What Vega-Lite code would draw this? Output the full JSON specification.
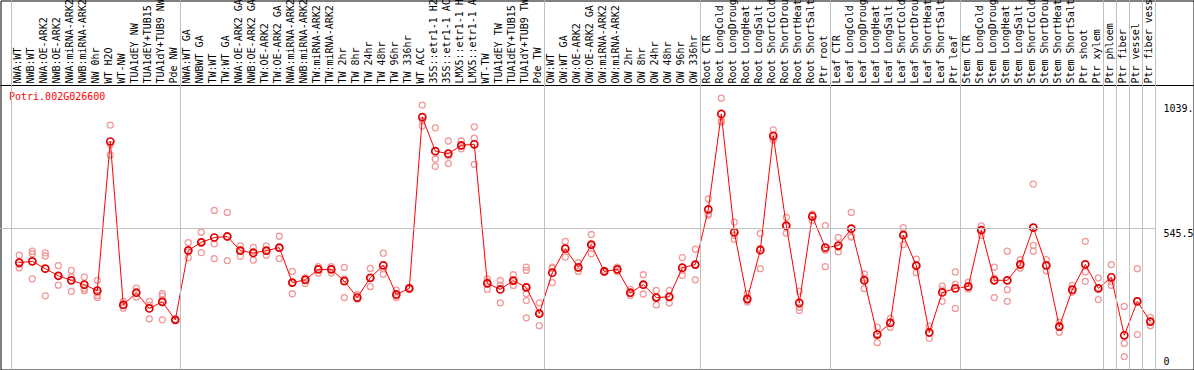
{
  "$schema": "https://vega.github.io/schema/vega-lite/v6.json",
  "width": 1193,
  "height": 369,
  "autosize": {"type": "none"},
  "padding": {"left": 0.5, "top": 0.5, "right": 0.5, "bottom": 0.5},
  "background": "white",
  "config": {
    "view": {"stroke": "black", "strokeWidth": 1},
    "axis": {"grid": false, "ticks": false, "domain": false, "translate": 0, "labelFont": "DejaVu Sans Mono", "labelFontSize": 10, "labelColor": "black"}
  },
  "datasets": {
    "means": [
      {"s": "NWA:WT", "v": 411}, {"s": "NWB:WT", "v": 416}, {"s": "NWA:OE-ARK2", "v": 387}, {"s": "NWB:OE-ARK2", "v": 359},
      {"s": "NWA:miRNA-ARK2", "v": 341}, {"s": "NWB:miRNA-ARK2", "v": 324}, {"s": "NW 0hr", "v": 300}, {"s": "WT H2O", "v": 889},
      {"s": "WT-NW", "v": 244}, {"s": "TUA1dEY NW", "v": 292}, {"s": "TUA1dEY+TUB15 NW", "v": 230}, {"s": "TUA1dY+TUB9 NW", "v": 256},
      {"s": "Pde NW", "v": 185}, {"s": "NWA:WT GA", "v": 459}, {"s": "NWBWT GA", "v": 491}, {"s": "TW:WT", "v": 510},
      {"s": "TW:WT GA", "v": 514}, {"s": "NWA:OE-ARK2 GA", "v": 458}, {"s": "NWB:OE-ARK2 GA", "v": 449}, {"s": "TW:OE-ARK2", "v": 458},
      {"s": "TW:OE-ARK2 GA", "v": 470}, {"s": "NWA:miRNA-ARK2 GA", "v": 332}, {"s": "NWB:miRNA-ARK2 GA", "v": 343}, {"s": "TW:miRNA-ARK2", "v": 384},
      {"s": "TW:miRNA-ARK2 GA", "v": 384}, {"s": "TW 2hr", "v": 338}, {"s": "TW 8hr", "v": 273}, {"s": "TW 24hr", "v": 351},
      {"s": "TW 48hr", "v": 400}, {"s": "TW 96hr", "v": 285}, {"s": "TW 336hr", "v": 309}, {"s": "WT ACC", "v": 985},
      {"s": "35S::etr1-1 H2O", "v": 851}, {"s": "35S::etr1-1 ACC", "v": 841}, {"s": "LMX5::etr1-1 H2O", "v": 874}, {"s": "LMX5::etr1-1 ACC", "v": 878},
      {"s": "WT-TW", "v": 329}, {"s": "TUA1dEY TW", "v": 305}, {"s": "TUA1dEY+TUB15 TW", "v": 340}, {"s": "TUA1dY+TUB9 TW", "v": 313},
      {"s": "Pde TW", "v": 209}, {"s": "OW:WT", "v": 371}, {"s": "OW:WT GA", "v": 466}, {"s": "OW:OE-ARK2", "v": 392},
      {"s": "OW:OE-ARK2 GA", "v": 482}, {"s": "OW:miRNA-ARK2", "v": 376}, {"s": "OW:miRNA-ARK2 GA", "v": 384}, {"s": "OW 2hr", "v": 292},
      {"s": "OW 8hr", "v": 324}, {"s": "OW 24hr", "v": 273}, {"s": "OW 48hr", "v": 276}, {"s": "OW 96hr", "v": 391},
      {"s": "OW 336hr", "v": 403}, {"s": "Root CTR", "v": 621}, {"s": "Root LongCold", "v": 998}, {"s": "Root LongDrought", "v": 531},
      {"s": "Root LongHeat", "v": 268}, {"s": "Root LongSalt", "v": 460}, {"s": "Root ShortCold", "v": 911}, {"s": "Root ShortDrought", "v": 557},
      {"s": "Root ShortHeat", "v": 252}, {"s": "Root ShortSalt", "v": 593}, {"s": "Ptr root", "v": 470}, {"s": "Leaf CTR", "v": 478},
      {"s": "Leaf LongCold", "v": 545}, {"s": "Leaf LongDrought", "v": 341}, {"s": "Leaf LongHeat", "v": 127}, {"s": "Leaf LongSalt", "v": 173},
      {"s": "Leaf ShortCold", "v": 519}, {"s": "Leaf ShortDrought", "v": 399}, {"s": "Leaf ShortHeat", "v": 135}, {"s": "Leaf ShortSalt", "v": 293},
      {"s": "Ptr leaf", "v": 309}, {"s": "Stem CTR", "v": 317}, {"s": "Stem LongCold", "v": 539}, {"s": "Stem LongDrought", "v": 341},
      {"s": "Stem LongHeat", "v": 341}, {"s": "Stem LongSalt", "v": 404}, {"s": "Stem ShortCold", "v": 549}, {"s": "Stem ShortDrought", "v": 400},
      {"s": "Stem ShortHeat", "v": 158}, {"s": "Stem ShortSalt", "v": 304}, {"s": "Ptr shoot", "v": 404}, {"s": "Ptr xylem", "v": 309},
      {"s": "Ptr phloem", "v": 353}, {"s": "Ptr fiber", "v": 124}, {"s": "Ptr vessel", "v": 258}, {"s": "Ptr fiber vessel", "v": 178}
    ],
    "reps": [
      {"s": "NWA:WT", "v": 440}, {"s": "NWA:WT", "v": 403}, {"s": "NWA:WT", "v": 390},
      {"s": "NWB:WT", "v": 456}, {"s": "NWB:WT", "v": 446}, {"s": "NWB:WT", "v": 347},
      {"s": "NWA:OE-ARK2", "v": 449}, {"s": "NWA:OE-ARK2", "v": 437}, {"s": "NWA:OE-ARK2", "v": 280},
      {"s": "NWB:OE-ARK2", "v": 399}, {"s": "NWB:OE-ARK2", "v": 358}, {"s": "NWB:OE-ARK2", "v": 322},
      {"s": "NWA:miRNA-ARK2", "v": 380}, {"s": "NWA:miRNA-ARK2", "v": 354}, {"s": "NWA:miRNA-ARK2", "v": 297},
      {"s": "NWB:miRNA-ARK2", "v": 354}, {"s": "NWB:miRNA-ARK2", "v": 308}, {"s": "NWB:miRNA-ARK2", "v": 300},
      {"s": "NW 0hr", "v": 341}, {"s": "NW 0hr", "v": 292}, {"s": "NW 0hr", "v": 281}, {"s": "NW 0hr", "v": 273},
      {"s": "WT H2O", "v": 954}, {"s": "WT H2O", "v": 877}, {"s": "WT H2O", "v": 836},
      {"s": "WT-NW", "v": 258}, {"s": "WT-NW", "v": 244}, {"s": "WT-NW", "v": 231},
      {"s": "TUA1dEY NW", "v": 310}, {"s": "TUA1dEY NW", "v": 291}, {"s": "TUA1dEY NW", "v": 275},
      {"s": "TUA1dEY+TUB15 NW", "v": 258}, {"s": "TUA1dEY+TUB15 NW", "v": 243}, {"s": "TUA1dEY+TUB15 NW", "v": 189},
      {"s": "TUA1dY+TUB9 NW", "v": 288}, {"s": "TUA1dY+TUB9 NW", "v": 279}, {"s": "TUA1dY+TUB9 NW", "v": 265}, {"s": "TUA1dY+TUB9 NW", "v": 185},
      {"s": "Pde NW", "v": 187}, {"s": "Pde NW", "v": 185}, {"s": "Pde NW", "v": 183},
      {"s": "NWA:WT GA", "v": 490}, {"s": "NWA:WT GA", "v": 453}, {"s": "NWA:WT GA", "v": 431},
      {"s": "NWBWT GA", "v": 531}, {"s": "NWBWT GA", "v": 492}, {"s": "NWBWT GA", "v": 450},
      {"s": "TW:WT", "v": 617}, {"s": "TW:WT", "v": 485}, {"s": "TW:WT", "v": 427},
      {"s": "TW:WT GA", "v": 609}, {"s": "TW:WT GA", "v": 514}, {"s": "TW:WT GA", "v": 419},
      {"s": "NWA:OE-ARK2 GA", "v": 477}, {"s": "NWA:OE-ARK2 GA", "v": 461}, {"s": "NWA:OE-ARK2 GA", "v": 436},
      {"s": "NWB:OE-ARK2 GA", "v": 471}, {"s": "NWB:OE-ARK2 GA", "v": 455}, {"s": "NWB:OE-ARK2 GA", "v": 421},
      {"s": "TW:OE-ARK2", "v": 477}, {"s": "TW:OE-ARK2", "v": 457}, {"s": "TW:OE-ARK2", "v": 440},
      {"s": "TW:OE-ARK2 GA", "v": 515}, {"s": "TW:OE-ARK2 GA", "v": 468}, {"s": "TW:OE-ARK2 GA", "v": 427},
      {"s": "NWA:miRNA-ARK2 GA", "v": 376}, {"s": "NWA:miRNA-ARK2 GA", "v": 332}, {"s": "NWA:miRNA-ARK2 GA", "v": 288},
      {"s": "NWB:miRNA-ARK2 GA", "v": 351}, {"s": "NWB:miRNA-ARK2 GA", "v": 350}, {"s": "NWB:miRNA-ARK2 GA", "v": 328},
      {"s": "TW:miRNA-ARK2", "v": 395}, {"s": "TW:miRNA-ARK2", "v": 387}, {"s": "TW:miRNA-ARK2", "v": 370},
      {"s": "TW:miRNA-ARK2 GA", "v": 395}, {"s": "TW:miRNA-ARK2 GA", "v": 387}, {"s": "TW:miRNA-ARK2 GA", "v": 370},
      {"s": "TW 2hr", "v": 392}, {"s": "TW 2hr", "v": 347}, {"s": "TW 2hr", "v": 273},
      {"s": "TW 8hr", "v": 284}, {"s": "TW 8hr", "v": 268}, {"s": "TW 8hr", "v": 267},
      {"s": "TW 24hr", "v": 388}, {"s": "TW 24hr", "v": 349}, {"s": "TW 24hr", "v": 316},
      {"s": "TW 48hr", "v": 448}, {"s": "TW 48hr", "v": 387}, {"s": "TW 48hr", "v": 365},
      {"s": "TW 96hr", "v": 302}, {"s": "TW 96hr", "v": 280}, {"s": "TW 96hr", "v": 273},
      {"s": "TW 336hr", "v": 311}, {"s": "TW 336hr", "v": 310}, {"s": "TW 336hr", "v": 306},
      {"s": "WT ACC", "v": 1033}, {"s": "WT ACC", "v": 972}, {"s": "WT ACC", "v": 950},
      {"s": "35S::etr1-1 H2O", "v": 943}, {"s": "35S::etr1-1 H2O", "v": 820}, {"s": "35S::etr1-1 H2O", "v": 791},
      {"s": "35S::etr1-1 ACC", "v": 891}, {"s": "35S::etr1-1 ACC", "v": 832}, {"s": "35S::etr1-1 ACC", "v": 802},
      {"s": "LMX5::etr1-1 H2O", "v": 891}, {"s": "LMX5::etr1-1 H2O", "v": 871}, {"s": "LMX5::etr1-1 H2O", "v": 860},
      {"s": "LMX5::etr1-1 ACC", "v": 947}, {"s": "LMX5::etr1-1 ACC", "v": 902}, {"s": "LMX5::etr1-1 ACC", "v": 799},
      {"s": "WT-TW", "v": 347}, {"s": "WT-TW", "v": 335}, {"s": "WT-TW", "v": 305},
      {"s": "TUA1dEY TW", "v": 341}, {"s": "TUA1dEY TW", "v": 322}, {"s": "TUA1dEY TW", "v": 252},
      {"s": "TUA1dEY+TUB15 TW", "v": 363}, {"s": "TUA1dEY+TUB15 TW", "v": 336}, {"s": "TUA1dEY+TUB15 TW", "v": 321},
      {"s": "TUA1dY+TUB9 TW", "v": 393}, {"s": "TUA1dY+TUB9 TW", "v": 380}, {"s": "TUA1dY+TUB9 TW", "v": 316}, {"s": "TUA1dY+TUB9 TW", "v": 288}, {"s": "TUA1dY+TUB9 TW", "v": 261}, {"s": "TUA1dY+TUB9 TW", "v": 193},
      {"s": "Pde TW", "v": 252}, {"s": "Pde TW", "v": 213}, {"s": "Pde TW", "v": 162},
      {"s": "OW:WT", "v": 393}, {"s": "OW:WT", "v": 388}, {"s": "OW:WT", "v": 332},
      {"s": "OW:WT GA", "v": 495}, {"s": "OW:WT GA", "v": 470}, {"s": "OW:WT GA", "v": 433},
      {"s": "OW:OE-ARK2", "v": 411}, {"s": "OW:OE-ARK2", "v": 389}, {"s": "OW:OE-ARK2", "v": 376},
      {"s": "OW:OE-ARK2 GA", "v": 522}, {"s": "OW:OE-ARK2 GA", "v": 478}, {"s": "OW:OE-ARK2 GA", "v": 446},
      {"s": "OW:miRNA-ARK2", "v": 380}, {"s": "OW:miRNA-ARK2", "v": 374}, {"s": "OW:miRNA-ARK2", "v": 374},
      {"s": "OW:miRNA-ARK2 GA", "v": 393}, {"s": "OW:miRNA-ARK2 GA", "v": 383}, {"s": "OW:miRNA-ARK2 GA", "v": 376},
      {"s": "OW 2hr", "v": 305}, {"s": "OW 2hr", "v": 290}, {"s": "OW 2hr", "v": 281},
      {"s": "OW 8hr", "v": 363}, {"s": "OW 8hr", "v": 322}, {"s": "OW 8hr", "v": 287},
      {"s": "OW 24hr", "v": 301}, {"s": "OW 24hr", "v": 274}, {"s": "OW 24hr", "v": 244},
      {"s": "OW 48hr", "v": 301}, {"s": "OW 48hr", "v": 276}, {"s": "OW 48hr", "v": 251},
      {"s": "OW 96hr", "v": 431}, {"s": "OW 96hr", "v": 381}, {"s": "OW 96hr", "v": 361},
      {"s": "OW 336hr", "v": 464}, {"s": "OW 336hr", "v": 402}, {"s": "OW 336hr", "v": 343},
      {"s": "Root CTR", "v": 662}, {"s": "Root CTR", "v": 603}, {"s": "Root CTR", "v": 598},
      {"s": "Root LongCold", "v": 1060}, {"s": "Root LongCold", "v": 971}, {"s": "Root LongCold", "v": 965},
      {"s": "Root LongDrought", "v": 571}, {"s": "Root LongDrought", "v": 519}, {"s": "Root LongDrought", "v": 503},
      {"s": "Root LongHeat", "v": 288}, {"s": "Root LongHeat", "v": 261}, {"s": "Root LongHeat", "v": 255},
      {"s": "Root LongSalt", "v": 526}, {"s": "Root LongSalt", "v": 467}, {"s": "Root LongSalt", "v": 387},
      {"s": "Root ShortCold", "v": 935}, {"s": "Root ShortCold", "v": 903}, {"s": "Root ShortCold", "v": 895},
      {"s": "Root ShortDrought", "v": 589}, {"s": "Root ShortDrought", "v": 555}, {"s": "Root ShortDrought", "v": 527},
      {"s": "Root ShortHeat", "v": 298}, {"s": "Root ShortHeat", "v": 235}, {"s": "Root ShortHeat", "v": 222},
      {"s": "Root ShortSalt", "v": 602}, {"s": "Root ShortSalt", "v": 599}, {"s": "Root ShortSalt", "v": 578},
      {"s": "Ptr root", "v": 557}, {"s": "Ptr root", "v": 460}, {"s": "Ptr root", "v": 395},
      {"s": "Leaf CTR", "v": 510}, {"s": "Leaf CTR", "v": 471}, {"s": "Leaf CTR", "v": 453},
      {"s": "Leaf LongCold", "v": 609}, {"s": "Leaf LongCold", "v": 514}, {"s": "Leaf LongCold", "v": 512},
      {"s": "Leaf LongDrought", "v": 366}, {"s": "Leaf LongDrought", "v": 349}, {"s": "Leaf LongDrought", "v": 308},
      {"s": "Leaf LongHeat", "v": 156}, {"s": "Leaf LongHeat", "v": 130}, {"s": "Leaf LongHeat", "v": 95},
      {"s": "Leaf LongSalt", "v": 191}, {"s": "Leaf LongSalt", "v": 173}, {"s": "Leaf LongSalt", "v": 155},
      {"s": "Leaf ShortCold", "v": 549}, {"s": "Leaf ShortCold", "v": 526}, {"s": "Leaf ShortCold", "v": 482},
      {"s": "Leaf ShortDrought", "v": 425}, {"s": "Leaf ShortDrought", "v": 401}, {"s": "Leaf ShortDrought", "v": 371},
      {"s": "Leaf ShortHeat", "v": 160}, {"s": "Leaf ShortHeat", "v": 133}, {"s": "Leaf ShortHeat", "v": 112},
      {"s": "Leaf ShortSalt", "v": 318}, {"s": "Leaf ShortSalt", "v": 303}, {"s": "Leaf ShortSalt", "v": 258},
      {"s": "Ptr leaf", "v": 374}, {"s": "Ptr leaf", "v": 325}, {"s": "Ptr leaf", "v": 230},
      {"s": "Stem CTR", "v": 334}, {"s": "Stem CTR", "v": 310}, {"s": "Stem CTR", "v": 307},
      {"s": "Stem LongCold", "v": 556}, {"s": "Stem LongCold", "v": 542}, {"s": "Stem LongCold", "v": 519},
      {"s": "Stem LongDrought", "v": 393}, {"s": "Stem LongDrought", "v": 350}, {"s": "Stem LongDrought", "v": 273},
      {"s": "Stem LongHeat", "v": 456}, {"s": "Stem LongHeat", "v": 304}, {"s": "Stem LongHeat", "v": 258},
      {"s": "Stem LongSalt", "v": 423}, {"s": "Stem LongSalt", "v": 400}, {"s": "Stem LongSalt", "v": 389},
      {"s": "Stem ShortCold", "v": 721}, {"s": "Stem ShortCold", "v": 479}, {"s": "Stem ShortCold", "v": 456},
      {"s": "Stem ShortDrought", "v": 423}, {"s": "Stem ShortDrought", "v": 399}, {"s": "Stem ShortDrought", "v": 378},
      {"s": "Stem ShortHeat", "v": 176}, {"s": "Stem ShortHeat", "v": 162}, {"s": "Stem ShortHeat", "v": 136},
      {"s": "Stem ShortSalt", "v": 321}, {"s": "Stem ShortSalt", "v": 296}, {"s": "Stem ShortSalt", "v": 295},
      {"s": "Ptr shoot", "v": 495}, {"s": "Ptr shoot", "v": 374}, {"s": "Ptr shoot", "v": 337},
      {"s": "Ptr xylem", "v": 351}, {"s": "Ptr xylem", "v": 311}, {"s": "Ptr xylem", "v": 265},
      {"s": "Ptr phloem", "v": 403}, {"s": "Ptr phloem", "v": 335}, {"s": "Ptr phloem", "v": 321},
      {"s": "Ptr fiber", "v": 238}, {"s": "Ptr fiber", "v": 92}, {"s": "Ptr fiber", "v": 40},
      {"s": "Ptr vessel", "v": 387}, {"s": "Ptr vessel", "v": 260}, {"s": "Ptr vessel", "v": 127},
      {"s": "Ptr fiber vessel", "v": 195}, {"s": "Ptr fiber vessel", "v": 177}, {"s": "Ptr fiber vessel", "v": 162}
    ],
    "groupStarts": [
      {"s": "NWA:WT"}, {"s": "NWA:WT GA"}, {"s": "OW:WT"}, {"s": "Root CTR"}, {"s": "Leaf CTR"},
      {"s": "Stem CTR"}, {"s": "Ptr phloem"}, {"s": "Ptr fiber"}, {"s": "Ptr vessel"}, {"s": "Ptr fiber vessel"}
    ],
    "lastSample": [{"s": "Ptr fiber vessel"}],
    "gridLevel": [{"level": 545.5, "from": "NWA:WT", "to": "Ptr fiber vessel"}]
  },
  "resolve": {"scale": {"x": "independent"}, "axis": {"x": "independent"}},
  "layer": [
    {
      "layer": [
        {
          "data": {"name": "reps"},
          "mark": {"type": "point", "shape": "circle", "filled": false, "color": "#f09a9a", "strokeWidth": 1.3, "size": 36, "opacity": 1},
          "encoding": {
            "x": {
              "field": "s", "type": "nominal", "sort": null, "bandPosition": 0.6,
              "scale": {"type": "band", "paddingInner": 0, "paddingOuter": 0, "range": [11, 1155]},
              "axis": {
                "orient": "top", "offset": -85, "domain": false,
                "labelAngle": 270, "labelAlign": "left", "labelBaseline": "middle", "labelPadding": 2,
                "labelOverlap": false, "labelLimit": 400, "labelBound": false, "bandPosition": 0.6,
                "title": "Potri.002G026600", "titleX": 8.5, "titleY": 11.8, "titleAngle": 0,
                "titleAlign": "left", "titleBaseline": "middle", "titleColor": "#ff0000",
                "titleFont": "DejaVu Sans Mono", "titleFontSize": 10, "titleFontWeight": "normal"
              }
            },
            "y": {
              "field": "v", "type": "quantitative",
              "scale": {"domain": [-11.05, 1445.7], "nice": false, "zero": false},
              "axis": {
                "orient": "right", "offset": -30, "values": [0, 545.5, 1039], "format": ".5~g",
                "labelExpr": "datum.value > 1000 ? datum.label + '.' : datum.label",
                "labelAlign": "left",
                "labelBaseline": {"condition": {"test": "datum.value < 1", "value": "bottom"}, "value": "top"},
                "labelPadding": 0, "labelOverlap": false, "grid": false, "title": null
              }
            }
          }
        },
        {
          "data": {"name": "means"},
          "mark": {"type": "line", "color": "#ff0000", "strokeWidth": 1},
          "encoding": {
            "x": {"field": "s", "type": "nominal", "sort": null, "bandPosition": 0.6},
            "y": {"field": "v", "type": "quantitative"}
          }
        },
        {
          "data": {"name": "means"},
          "mark": {"type": "point", "shape": "circle", "filled": false, "color": "#e00000", "strokeWidth": 1.7, "size": 50, "opacity": 1},
          "encoding": {
            "x": {"field": "s", "type": "nominal", "sort": null, "bandPosition": 0.6},
            "y": {"field": "v", "type": "quantitative"}
          }
        },
        {
          "data": {"name": "groupStarts"},
          "mark": {"type": "rule", "color": "#c0c0c0", "strokeWidth": 1},
          "encoding": {
            "x": {"field": "s", "type": "nominal", "sort": null, "bandPosition": 0}
          }
        },
        {
          "data": {"name": "lastSample"},
          "mark": {"type": "rule", "color": "#c0c0c0", "strokeWidth": 1},
          "encoding": {
            "x": {"field": "s", "type": "nominal", "sort": null, "bandPosition": 1}
          }
        }
      ]
    },
    {
      "data": {"name": "gridLevel"},
      "mark": {"type": "rule", "color": "#c0c0c0", "strokeWidth": 1},
      "encoding": {
        "x": {
          "field": "from", "type": "nominal", "sort": null, "bandPosition": 0,
          "scale": {"type": "band", "paddingInner": 0, "paddingOuter": 0},
          "axis": {"orient": "top", "offset": -85, "domain": true, "domainColor": "black", "domainWidth": 1, "labels": false, "ticks": false, "title": null}
        },
        "x2": {"field": "to", "bandPosition": 0.9363},
        "y": {"field": "level", "type": "quantitative"}
      }
    }
  ]
}
